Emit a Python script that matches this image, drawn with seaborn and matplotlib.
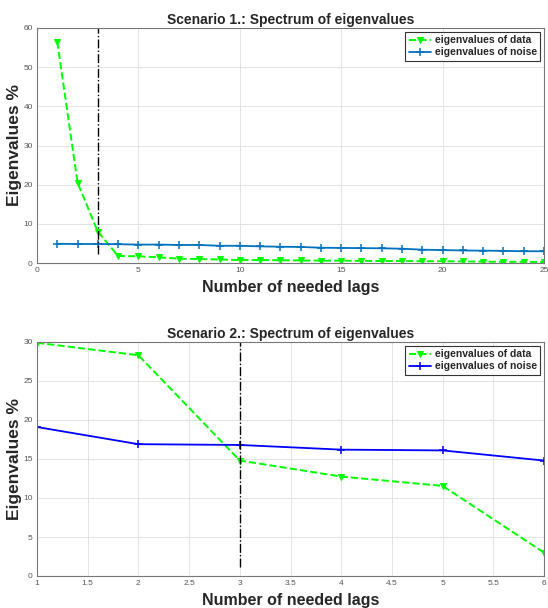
import numpy as np
import pandas as pd
import matplotlib
matplotlib.use("Agg")
import matplotlib.pyplot as plt
import seaborn as sns

# Scenario 1 values
lags_1 = list(range(1, 26))
data_1 = [56.5, 20.5, 8.0, 1.8, 1.7, 1.45, 1.1, 1.0, 0.9, 0.75, 0.75, 0.7, 0.65,
          0.6, 0.6, 0.55, 0.5, 0.5, 0.45, 0.45, 0.4, 0.35, 0.3, 0.3, 0.25]
noise_1 = [4.9, 4.85, 4.85, 4.8, 4.7, 4.7, 4.6, 4.6, 4.4, 4.4, 4.25, 4.15, 4.1,
           3.9, 3.85, 3.8, 3.75, 3.65, 3.4, 3.3, 3.2, 3.15, 3.1, 3.0, 3.0]
cut_1 = 3
cut_1_low = 2.2

# Scenario 2 values
lags_2 = [1, 2, 3, 4, 5, 6]
data_2 = [29.9, 28.3, 14.8, 12.75, 11.55, 3.0]
noise_2 = [19.1, 16.9, 16.8, 16.2, 16.1, 14.8]
cut_2 = 3
cut_2_low = 1.2

sns.set_theme(style="whitegrid")
plt.rcParams["font.family"] = ["Liberation Sans", "DejaVu Sans"]

fig = plt.figure(figsize=(5.48, 6.08), dpi=100)
ax1 = fig.add_axes([37 / 548, 1 - 263 / 608, 507 / 548, 235 / 608])
ax2 = fig.add_axes([37 / 548, 1 - 576 / 608, 507 / 548, 234 / 608])


def draw(ax, lags, data, noise, noise_color, cut, cut_low, ylim, xlim, xticks, yticks, title):
    df = pd.DataFrame({"lag": lags, "data": data, "noise": noise})
    sns.lineplot(data=df, x="lag", y="data", ax=ax, color="#00ff00", linestyle="--",
                 linewidth=1.4, marker="v", markersize=4.5, markeredgecolor="#00ff00",
                 label="eigenvalues of data")
    sns.lineplot(data=df, x="lag", y="noise", ax=ax, color=noise_color, linewidth=1.3,
                 marker="+", markersize=5.5, markeredgewidth=1.1, markeredgecolor=noise_color,
                 label="eigenvalues of noise")
    ax.plot([cut, cut], [cut_low, ylim[1]], color="black", linestyle="-.", linewidth=1.0)
    ax.set_xlim(*xlim)
    ax.set_ylim(*ylim)
    ax.set_xticks(xticks)
    ax.set_yticks(yticks)
    ax.set_xticklabels([f"{t:g}" for t in xticks])
    ax.tick_params(axis="both", labelsize=6, colors="#444444", length=3, pad=3, direction="in")
    ax.tick_params(axis="both", labelcolor="#555555")
    ax.grid(True, color="#e3e3e3", linewidth=0.7)
    for s in ax.spines.values():
        s.set_color("#777777")
        s.set_linewidth(0.8)
    ax.set_title(title, fontsize=10, fontweight="bold", pad=3)
    ax.set_xlabel("Number of needed lags", fontsize=11.5, fontweight="bold", labelpad=4)
    ax.set_ylabel("Eigenvalues %", fontsize=12.5, fontweight="bold", labelpad=1)
    leg = ax.legend(loc="upper right", fontsize=7.5, frameon=True, fancybox=False,
                    borderaxespad=0.4, handlelength=2.2, handletextpad=0.3,
                    borderpad=0.3, labelspacing=0.2)
    leg.get_frame().set_edgecolor("#333333")
    leg.get_frame().set_linewidth(0.8)
    leg.get_frame().set_alpha(1)
    for t in leg.get_texts():
        t.set_fontweight("bold")


draw(ax1, lags_1, data_1, noise_1, "#0072bd", cut_1, cut_1_low, (0, 60), (0, 25),
     [0, 5, 10, 15, 20, 25], [0, 10, 20, 30, 40, 50, 60],
     "Scenario 1.: Spectrum of eigenvalues")
draw(ax2, lags_2, data_2, noise_2, "#0000ff", cut_2, cut_2_low, (0, 30), (1, 6),
     [1, 1.5, 2, 2.5, 3, 3.5, 4, 4.5, 5, 5.5, 6], [0, 5, 10, 15, 20, 25, 30],
     "Scenario 2.: Spectrum of eigenvalues")

fig.savefig("out.png", dpi=100)
